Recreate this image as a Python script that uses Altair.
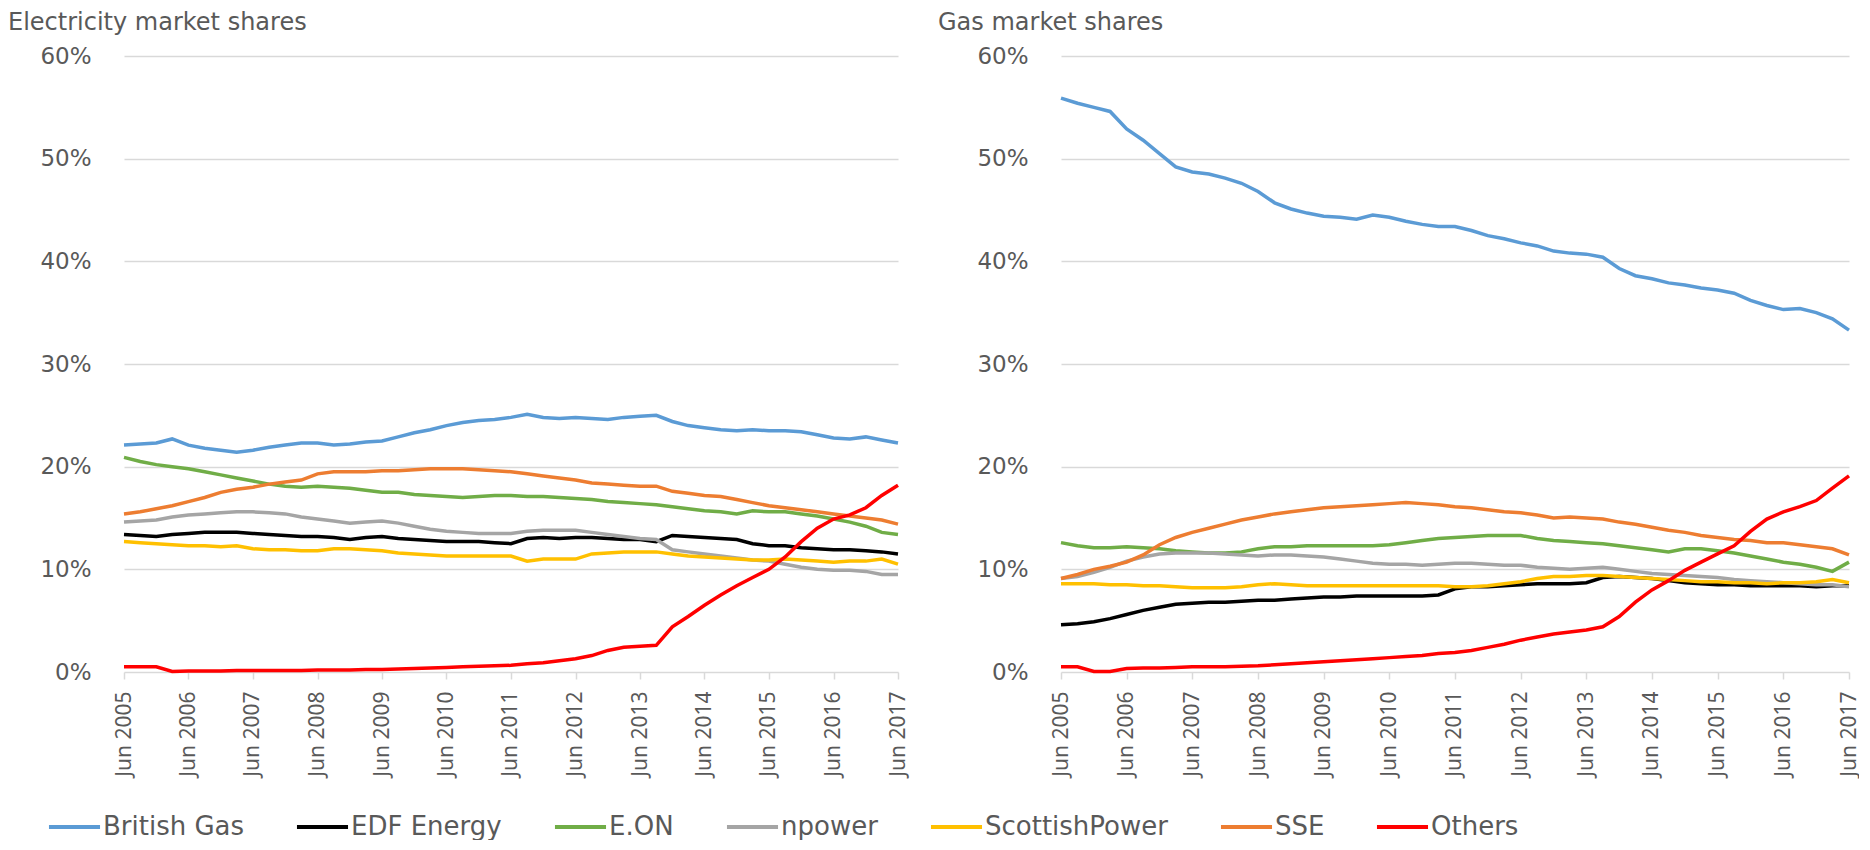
import altair as alt
import pandas as pd

# Quarterly observation dates, Jun 2005 .. Jun 2017
quarters = pd.date_range("2005-06-01", "2017-06-01", freq="3MS")

companies = ["British Gas", "EDF Energy", "E.ON", "npower", "ScottishPower", "SSE", "Others"]
colors = ["#5B9BD5", "#000000", "#70AD47", "#A5A5A5", "#FFC000", "#ED7D31", "#FF0000"]

# ---------------- Electricity market shares (%) ----------------
elec_british_gas = [22.1, 22.2, 22.3, 22.7, 22.1, 21.8, 21.6, 21.4, 21.6, 21.9,
                    22.1, 22.3, 22.3, 22.1, 22.2, 22.4, 22.5, 22.9, 23.3, 23.6,
                    24.0, 24.3, 24.5, 24.6, 24.8, 25.1, 24.8, 24.7, 24.8, 24.7,
                    24.6, 24.8, 24.9, 25.0, 24.4, 24.0, 23.8, 23.6, 23.5, 23.6,
                    23.5, 23.5, 23.4, 23.1, 22.8, 22.7, 22.9, 22.6, 22.3]
elec_edf = [13.4, 13.3, 13.2, 13.4, 13.5, 13.6, 13.6, 13.6, 13.5, 13.4,
            13.3, 13.2, 13.2, 13.1, 12.9, 13.1, 13.2, 13.0, 12.9, 12.8,
            12.7, 12.7, 12.7, 12.6, 12.5, 13.0, 13.1, 13.0, 13.1, 13.1,
            13.0, 12.9, 12.9, 12.7, 13.3, 13.2, 13.1, 13.0, 12.9, 12.5,
            12.3, 12.3, 12.1, 12.0, 11.9, 11.9, 11.8, 11.7, 11.5]
elec_eon = [20.9, 20.5, 20.2, 20.0, 19.8, 19.5, 19.2, 18.9, 18.6, 18.3,
            18.1, 18.0, 18.1, 18.0, 17.9, 17.7, 17.5, 17.5, 17.3, 17.2,
            17.1, 17.0, 17.1, 17.2, 17.2, 17.1, 17.1, 17.0, 16.9, 16.8,
            16.6, 16.5, 16.4, 16.3, 16.1, 15.9, 15.7, 15.6, 15.4, 15.7,
            15.6, 15.6, 15.4, 15.2, 14.9, 14.6, 14.2, 13.6, 13.4]
elec_npower = [14.6, 14.7, 14.8, 15.1, 15.3, 15.4, 15.5, 15.6, 15.6, 15.5,
               15.4, 15.1, 14.9, 14.7, 14.5, 14.6, 14.7, 14.5, 14.2, 13.9,
               13.7, 13.6, 13.5, 13.5, 13.5, 13.7, 13.8, 13.8, 13.8, 13.6,
               13.4, 13.2, 13.0, 12.9, 11.9, 11.7, 11.5, 11.3, 11.1, 10.9,
               10.8, 10.5, 10.2, 10.0, 9.9, 9.9, 9.8, 9.5, 9.5]
elec_scottishpower = [12.7, 12.6, 12.5, 12.4, 12.3, 12.3, 12.2, 12.3, 12.0, 11.9,
                      11.9, 11.8, 11.8, 12.0, 12.0, 11.9, 11.8, 11.6, 11.5, 11.4,
                      11.3, 11.3, 11.3, 11.3, 11.3, 10.8, 11.0, 11.0, 11.0, 11.5,
                      11.6, 11.7, 11.7, 11.7, 11.5, 11.3, 11.2, 11.1, 11.0, 10.9,
                      10.9, 11.0, 10.9, 10.8, 10.7, 10.8, 10.8, 11.0, 10.5]
elec_sse = [15.4, 15.6, 15.9, 16.2, 16.6, 17.0, 17.5, 17.8, 18.0, 18.3,
            18.5, 18.7, 19.3, 19.5, 19.5, 19.5, 19.6, 19.6, 19.7, 19.8,
            19.8, 19.8, 19.7, 19.6, 19.5, 19.3, 19.1, 18.9, 18.7, 18.4,
            18.3, 18.2, 18.1, 18.1, 17.6, 17.4, 17.2, 17.1, 16.8, 16.5,
            16.2, 16.0, 15.8, 15.6, 15.4, 15.2, 15.0, 14.8, 14.4]
elec_others = [0.5, 0.5, 0.5, 0.05, 0.1, 0.1, 0.1, 0.15, 0.15, 0.15,
               0.15, 0.15, 0.2, 0.2, 0.2, 0.25, 0.25, 0.3, 0.35, 0.4,
               0.45, 0.5, 0.55, 0.6, 0.65, 0.8, 0.9, 1.1, 1.3, 1.6,
               2.1, 2.4, 2.5, 2.6, 4.4, 5.4, 6.5, 7.5, 8.4, 9.2,
               10.0, 11.2, 12.7, 14.0, 14.9, 15.3, 16.0, 17.2, 18.2]

# ---------------- Gas market shares (%) ----------------
gas_british_gas = [55.9, 55.4, 55.0, 54.6, 52.9, 51.8, 50.5, 49.2, 48.7, 48.5,
                   48.1, 47.6, 46.8, 45.7, 45.1, 44.7, 44.4, 44.3, 44.1, 44.5,
                   44.3, 43.9, 43.6, 43.4, 43.4, 43.0, 42.5, 42.2, 41.8, 41.5,
                   41.0, 40.8, 40.7, 40.4, 39.3, 38.6, 38.3, 37.9, 37.7, 37.4,
                   37.2, 36.9, 36.2, 35.7, 35.3, 35.4, 35.0, 34.4, 33.3]
gas_edf = [4.6, 4.7, 4.9, 5.2, 5.6, 6.0, 6.3, 6.6, 6.7, 6.8,
           6.8, 6.9, 7.0, 7.0, 7.1, 7.2, 7.3, 7.3, 7.4, 7.4,
           7.4, 7.4, 7.4, 7.5, 8.1, 8.3, 8.3, 8.4, 8.5, 8.6,
           8.6, 8.6, 8.7, 9.2, 9.3, 9.2, 9.1, 8.9, 8.7, 8.6,
           8.5, 8.5, 8.4, 8.4, 8.4, 8.4, 8.3, 8.4, 8.4]
gas_eon = [12.6, 12.3, 12.1, 12.1, 12.2, 12.1, 12.0, 11.8, 11.7, 11.6,
           11.6, 11.7, 12.0, 12.2, 12.2, 12.3, 12.3, 12.3, 12.3, 12.3,
           12.4, 12.6, 12.8, 13.0, 13.1, 13.2, 13.3, 13.3, 13.3, 13.0,
           12.8, 12.7, 12.6, 12.5, 12.3, 12.1, 11.9, 11.7, 12.0, 12.0,
           11.8, 11.6, 11.3, 11.0, 10.7, 10.5, 10.2, 9.8, 10.7]
gas_npower = [9.1, 9.3, 9.7, 10.2, 10.8, 11.2, 11.5, 11.6, 11.6, 11.6,
              11.5, 11.4, 11.3, 11.4, 11.4, 11.3, 11.2, 11.0, 10.8, 10.6,
              10.5, 10.5, 10.4, 10.5, 10.6, 10.6, 10.5, 10.4, 10.4, 10.2,
              10.1, 10.0, 10.1, 10.2, 10.0, 9.8, 9.6, 9.5, 9.4, 9.3,
              9.2, 9.0, 8.9, 8.8, 8.7, 8.6, 8.5, 8.5, 8.3]
gas_scottishpower = [8.6, 8.6, 8.6, 8.5, 8.5, 8.4, 8.4, 8.3, 8.2, 8.2,
                     8.2, 8.3, 8.5, 8.6, 8.5, 8.4, 8.4, 8.4, 8.4, 8.4,
                     8.4, 8.4, 8.4, 8.4, 8.3, 8.3, 8.4, 8.6, 8.8, 9.1,
                     9.3, 9.3, 9.4, 9.4, 9.3, 9.2, 9.1, 9.0, 8.9, 8.8,
                     8.8, 8.7, 8.7, 8.6, 8.7, 8.7, 8.8, 9.0, 8.7]
gas_sse = [9.1, 9.5, 10.0, 10.3, 10.7, 11.4, 12.4, 13.1, 13.6, 14.0,
           14.4, 14.8, 15.1, 15.4, 15.6, 15.8, 16.0, 16.1, 16.2, 16.3,
           16.4, 16.5, 16.4, 16.3, 16.1, 16.0, 15.8, 15.6, 15.5, 15.3,
           15.0, 15.1, 15.0, 14.9, 14.6, 14.4, 14.1, 13.8, 13.6, 13.3,
           13.1, 12.9, 12.8, 12.6, 12.6, 12.4, 12.2, 12.0, 11.4]
gas_others = [0.5, 0.5, 0.05, 0.05, 0.35, 0.4, 0.4, 0.45, 0.5, 0.5,
              0.5, 0.55, 0.6, 0.7, 0.8, 0.9, 1.0, 1.1, 1.2, 1.3,
              1.4, 1.5, 1.6, 1.8, 1.9, 2.1, 2.4, 2.7, 3.1, 3.4,
              3.7, 3.9, 4.1, 4.4, 5.4, 6.8, 8.0, 8.9, 9.9, 10.7,
              11.5, 12.3, 13.7, 14.9, 15.6, 16.1, 16.7, 17.9, 19.1]

y_ticks = [0, 10, 20, 30, 40, 50, 60]
x_tick_years = list(range(2005, 2018))

elec = [elec_british_gas, elec_edf, elec_eon, elec_npower, elec_scottishpower, elec_sse, elec_others]
gas = [gas_british_gas, gas_edf, gas_eon, gas_npower, gas_scottishpower, gas_sse, gas_others]

rows = []
for market, series in (("Electricity", elec), ("Gas", gas)):
    for comp, vals in zip(companies, series):
        for d, v in zip(quarters, vals):
            rows.append({"market": market, "company": comp, "date": d, "value": v})
df = pd.DataFrame(rows)

GREY_TEXT = "#595959"
GRID = "#d9d9d9"


def panel(market, title, width, dx):
    return (
        alt.Chart(df)
        .transform_filter(alt.datum.market == market)
        .mark_line(strokeWidth=3.5, interpolate="linear")
        .encode(
            x=alt.X(
                "date:T",
                scale=alt.Scale(domain=[alt.DateTime(year=2005, month=6, date=1),
                                        alt.DateTime(year=2017, month=6, date=1)]),
                axis=alt.Axis(
                    values=[alt.DateTime(year=y, month=6, date=1) for y in x_tick_years],
                    format="%b %Y", labelAngle=-90, title=None, grid=False,
                    domain=False, ticks=True, tickColor=GRID, tickSize=7, tickWidth=1.5,
                    labelPadding=12, labelFont="Noto Sans", labelFontSize=21,
                    labelColor=GREY_TEXT,
                ),
            ),
            y=alt.Y(
                "value:Q",
                scale=alt.Scale(domain=[0, 60], nice=False),
                axis=alt.Axis(
                    values=y_ticks, labelExpr="datum.value + '%'", title=None,
                    grid=True, gridColor=GRID, gridWidth=1.5, domain=False, ticks=False,
                    labelPadding=33, labelFont="DejaVu Sans", labelFontSize=23,
                    labelColor=GREY_TEXT,
                ),
            ),
            color=alt.Color(
                "company:N",
                scale=alt.Scale(domain=companies, range=colors),
                legend=alt.Legend(
                    title=None, orient="none", legendX=-62.5, legendY=758,
                    direction="horizontal", columns=7,
                    symbolType="M-4,0L4,0", symbolSize=163, symbolStrokeWidth=4,
                    labelFont="DejaVu Sans", labelFontSize=26, labelColor=GREY_TEXT,
                    labelOffset=15.5, columnPadding=44, padding=0, labelLimit=400,
                ),
            ),
        )
        .properties(
            width=width, height=616,
            title=alt.TitleParams(
                title, anchor="start", frame="group", dx=dx, offset=10,
                font="DejaVu Sans", fontSize=24, fontWeight="normal", color=GREY_TEXT,
            ),
        )
    )


left = panel("Electricity", "Electricity market shares", 774, -116)
right = panel("Gas", "Gas market shares", 788, -123)

chart = (
    alt.hconcat(left, right, spacing=163, bounds="flush")
    .properties(padding={"top": 3, "left": 0, "right": 0, "bottom": 0})
    .configure_view(stroke=None)
)

chart.save("out.html", embed_options={"renderer": "svg", "actions": False})
